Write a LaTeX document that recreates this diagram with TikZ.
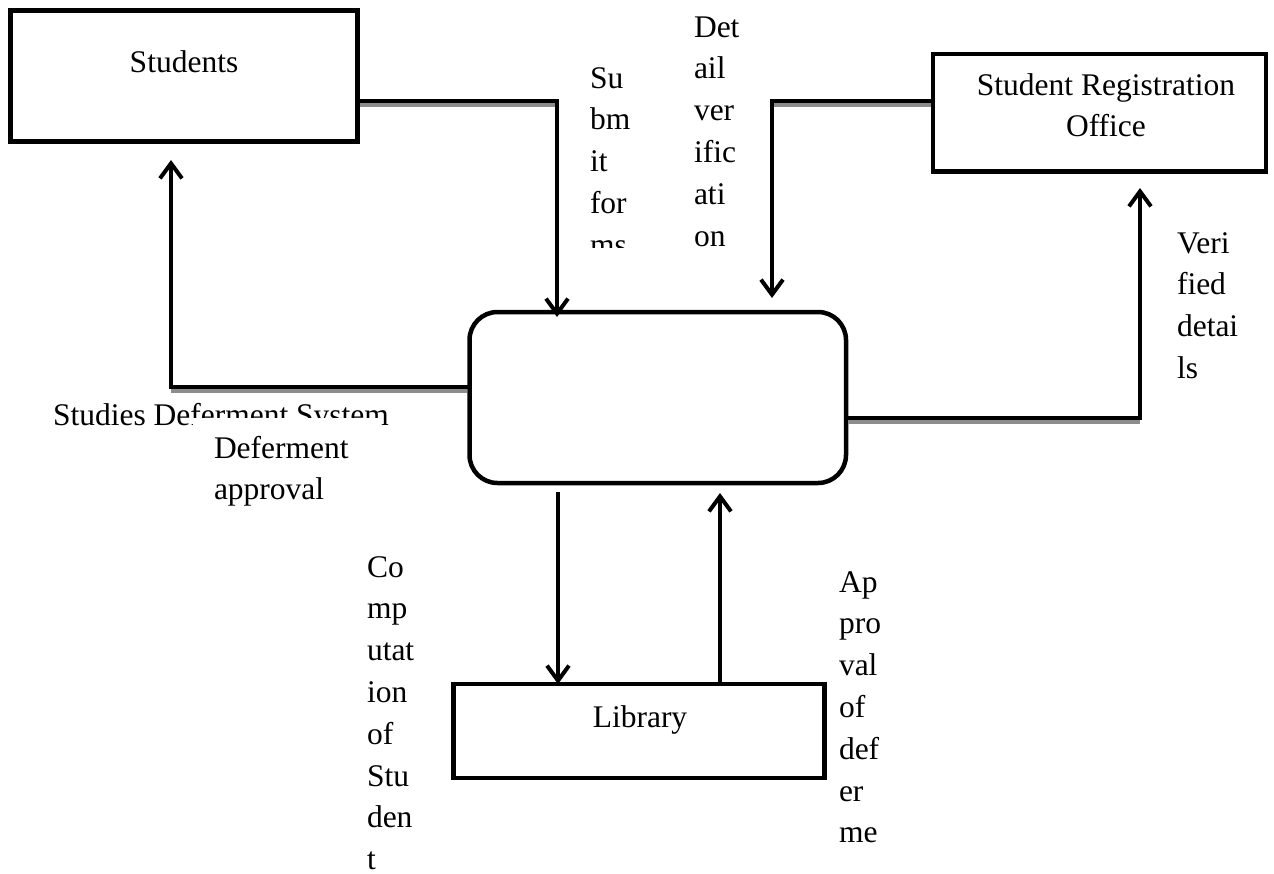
\documentclass[tikz,border=0pt]{standalone}
\usepackage{fontspec}
\setmainfont{Liberation Serif}
\usetikzlibrary{arrows.meta,calc}
\newcommand\dfdfont{\fontsize{31.5}{41.8}\selectfont}
\tikzset{
  box/.style={draw=black, line width=4.5pt, inner sep=0pt, outer sep=0pt},
  procbox/.style={box, rounded corners=28pt},
  flow/.style={draw=black, line width=4pt, -{Straight Barb[length=15pt,width=22pt]}},
  flowshade/.style={draw=black!45, line width=4pt},
  lbl/.style={inner sep=0pt, outer sep=0pt, anchor=base west, font=\dfdfont},
  ctr/.style={inner sep=0pt, outer sep=0pt, anchor=base, font=\dfdfont},
}
\begin{document}
\begin{tikzpicture}[x=1pt,y=-1pt]
\useasboundingbox (0,0) rectangle (1274,873);

% external entities and the process
\node[box, minimum width=347pt, minimum height=131pt] (stud) at (184,76) {};
\node[box, minimum width=333pt, minimum height=117.5pt] (sro) at (1099.5,112.75) {};
\node[procbox, minimum width=376.5pt, minimum height=171pt] (proc) at (657.75,397.5) {};
\node[box, minimum width=371pt, minimum height=94pt] (lib) at (639,731) {};

\node[ctr] (studT) at (184,72) {Students};
\node[ctr] (sroT) at (1106,95) {\begin{tabular}[t]{@{}c@{}}Student Registration\\Office\end{tabular}};
\node[ctr] (libT) at (640,727) {Library};

% bends and free ends of the data flows
\coordinate (subBend) at (557,101);
\coordinate (dvBend) at (772,101);
\coordinate (dvTip) at (772,298);
\coordinate (daBend) at (171,387);
\coordinate (daTip) at (171,160);
\coordinate (vdBend) at (1140,418);
\coordinate (vdTip) at (1140,188);
\coordinate (cmStart) at (558,492);
\coordinate (apTip) at (720,493);

% grey shadows under the horizontal runs
\draw[flowshade] ($(stud.east |- subBend)+(2.25,4)$) -- ($(subBend)+(0,4)$);
\draw[flowshade] ($(sro.west |- dvBend)+(-2.25,4)$) -- ($(dvBend)+(0,4)$);
\draw[flowshade] ($(proc.west |- daBend)+(-2.25,4)$) -- ($(daBend)+(0,4)$);
\draw[flowshade] ($(proc.east |- vdBend)+(2.25,4)$) -- ($(vdBend)+(0,4)$);

% data flows
\draw[flow] (stud.east |- subBend) -- (subBend) -- ($(subBend |- proc.north)+(0,5)$);
\draw[flow] (sro.west |- dvBend) -- (dvBend) -- (dvTip);
\draw[flow] (proc.west |- daBend) -- (daBend) -- (daTip);
\draw[flow] (proc.east |- vdBend) -- (vdBend) -- (vdTip);
\draw[flow] (cmStart) -- (cmStart |- lib.north);
\draw[flow] (apTip |- lib.north) -- (apTip);

% flow labels
\begin{scope}
  \clip (575,40) rectangle (680,247);
  \node[lbl] (subT) at (590,88) {\begin{tabular}[t]{@{}l@{}}Su\\bm\\it\\for\\ms\end{tabular}};
\end{scope}
\node[lbl] (dvT) at (694,37) {\begin{tabular}[t]{@{}l@{}}Det\\ail\\ver\\ific\\ati\\on\end{tabular}};
\node[lbl] (vdT) at (1177,253) {\begin{tabular}[t]{@{}l@{}}Veri\\fied\\detai\\ls\end{tabular}};
\node[lbl] (sysT) at (53,425) {Studies Deferment System};
\fill[white] (193,418) rectangle (380,520);
\node[lbl] (daT) at (214,458) {\begin{tabular}[t]{@{}l@{}}Deferment\\approval\end{tabular}};
\node[lbl] (cmT) at (367,577) {\begin{tabular}[t]{@{}l@{}}Co\\mp\\utat\\ion\\of\\Stu\\den\\t\end{tabular}};
\node[lbl] (apT) at (839,592) {\begin{tabular}[t]{@{}l@{}}Ap\\pro\\val\\of\\def\\er\\me\end{tabular}};
\end{tikzpicture}
\end{document}
